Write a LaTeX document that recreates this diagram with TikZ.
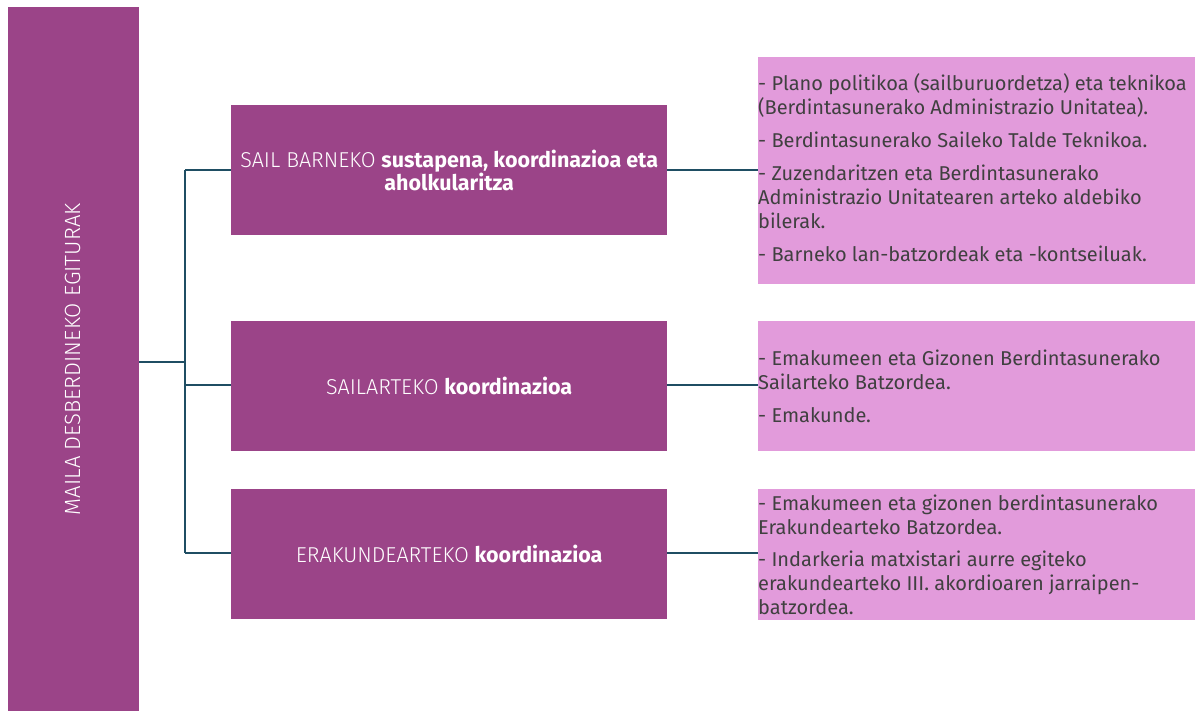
\documentclass[tikz,border=0pt]{standalone}
\usepackage{fontspec}
\setmainfont{Fira Sans}
\newfontfamily\lightfont{Fira Sans Light}
\definecolor{dpurple}{HTML}{9B4488}
\definecolor{lpink}{HTML}{E29BDB}
\definecolor{conn}{HTML}{1F4E63}
\definecolor{txt}{HTML}{404040}
\tikzset{
  midbox/.style={fill=dpurple, draw=none, minimum width=436pt, minimum height=130pt, text=white, align=center, inner sep=0pt, anchor=north west, font=\fontsize{21.5}{23}\selectfont},
  rightbox/.style={fill=lpink, draw=none, minimum width=437pt, inner sep=0pt, anchor=north west},
  righttext/.style={text=txt, align=left, inner sep=0pt, anchor=west, font=\fontsize{20}{24}\selectfont},
  connector/.style={draw=conn, line width=2pt}
}
\begin{document}
\begin{tikzpicture}[x=1pt,y=-1pt]
\useasboundingbox (0,0) rectangle (1195,711);
% left tall box
\node[fill=dpurple, minimum width=131pt, minimum height=704pt, inner sep=0pt, anchor=north west] (left) at (8,7) {};
\node[rotate=90, text=white, font=\lightfont\fontsize{22}{24}\selectfont] (lefttext) at ([xshift=-1pt]left.center) {MAILA DESBERDINEKO EGITURAK};
% middle boxes
\node[midbox] (m1) at (231,105) {{\lightfont SAIL BARNEKO} \textbf{sustapena, koordinazioa eta}\\\textbf{aholkularitza}};
\node[midbox] (m2) at (231,321) {{\lightfont SAILARTEKO} \textbf{koordinazioa}};
\node[midbox] (m3) at (231,489) {{\lightfont ERAKUNDEARTEKO} \textbf{koordinazioa}};
% right boxes
\node[rightbox, minimum height=227pt] (r1) at (758,57) {};
\node[rightbox, minimum height=130pt] (r2) at (758,321) {};
\node[rightbox, minimum height=131pt] (r3) at (758,489) {};
\node[righttext] (t1) at ([yshift=3pt]r1.west) {- Plano politikoa (sailburuordetza) eta teknikoa\\(Berdintasunerako Administrazio Unitatea).\\[9pt]- Berdintasunerako Saileko Talde Teknikoa.\\[9pt]- Zuzendaritzen eta Berdintasunerako\\Administrazio Unitatearen arteko aldebiko\\bilerak.\\[9pt]- Barneko lan-batzordeak eta -kontseiluak.};
\node[righttext] (t2) at (r2.west) {- Emakumeen eta Gizonen Berdintasunerako\\Sailarteko Batzordea.\\[9pt]- Emakunde.};
\node[righttext] (t3) at (r3.west) {- Emakumeen eta gizonen berdintasunerako\\Erakundearteko Batzordea.\\[8pt]- Indarkeria matxistari aurre egiteko\\erakundearteko III. akordioaren jarraipen-\\batzordea.};
% connectors
\coordinate (bus) at (185,362);
\coordinate (bustop) at (185,170);
\coordinate (busbot) at (185,553);
\draw[connector] (left.east |- bus) -- (bus);
\draw[connector] (bustop) -- (busbot);
\draw[connector] (bustop) -- (bustop -| m1.west);
\draw[connector] (185,385) -- (m2.west |- 0,385);
\draw[connector] (busbot) -- (busbot -| m3.west);
\draw[connector] (m1.east |- 0,170) -- (r1.west |- 0,170);
\draw[connector] (m2.east |- 0,385) -- (r2.west |- 0,385);
\draw[connector] (m3.east |- 0,553) -- (r3.west |- 0,553);
\end{tikzpicture}
\end{document}
